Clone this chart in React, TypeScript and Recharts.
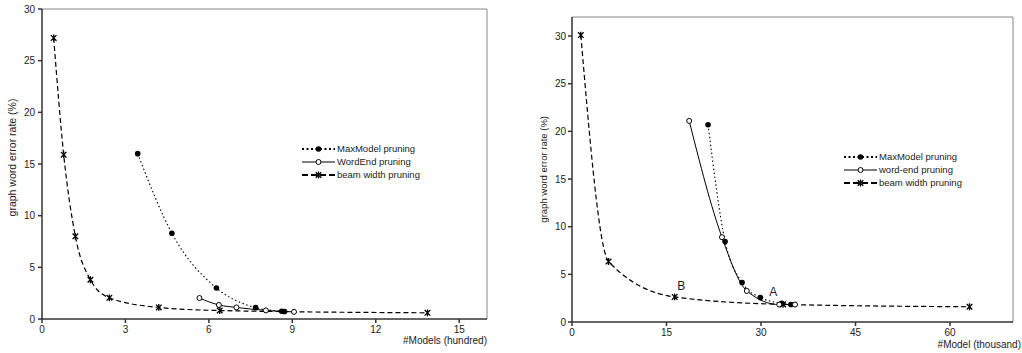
import React from 'react';
import {
  LineChart,
  Line,
  XAxis,
  YAxis,
  Legend,
  Label,
  ReferenceLine,
  ReferenceDot
} from 'recharts';

const FONT = '"Liberation Sans", Arial, sans-serif';
const INK = '#222';

// left panel: x = #Models (hundred)
const leftXTicks = [0, 3, 6, 9, 12, 15];
const leftYTicks = [0, 5, 10, 15, 20, 25, 30];
const leftMaxModelX = [3.44, 4.67, 6.27, 7.68, 8.62, 8.72];
const leftMaxModelY = [16.0, 8.3, 3.0, 1.1, 0.75, 0.72];
const leftWordEndX = [5.66, 6.36, 6.99, 8.05, 9.06];
const leftWordEndY = [2.03, 1.36, 1.12, 0.83, 0.69];
const leftBeamX = [0.42, 0.78, 1.2, 1.74, 2.42, 4.2, 6.39, 13.86];
const leftBeamY = [27.2, 15.9, 8.0, 3.8, 2.05, 1.12, 0.82, 0.6];
const leftNames = ['MaxModel pruning', 'WordEnd pruning', 'beam width pruning'];

// right panel: x = #Model (thousand)
const rightXTicks = [0, 15, 30, 45, 60];
const rightYTicks = [0, 5, 10, 15, 20, 25, 30];
const rightMaxModelX = [21.6, 24.3, 27.0, 29.9, 33.3, 34.75];
const rightMaxModelY = [20.7, 8.45, 4.14, 2.56, 1.97, 1.83];
const rightWordEndX = [18.6, 23.8, 27.75, 32.9, 35.4];
const rightWordEndY = [21.1, 8.9, 3.26, 1.83, 1.83];
const rightBeamX = [1.4, 5.8, 16.3, 33.5, 63.1];
const rightBeamY = [30.1, 6.35, 2.63, 1.85, 1.6];
const rightNames = ['MaxModel pruning', 'word-end pruning', 'beam width pruning'];
const rightNotes = [
  { text: 'B', x: 17.35, y: 3.78 },
  { text: 'A', x: 31.95, y: 3.18 }
];

const toPoints = (xs: number[], ys: number[]) => xs.map((x, i) => ({ x, y: ys[i] }));

const filledDot = (p: any) => (
  <circle key={`f${p.index}`} cx={p.cx} cy={p.cy} r={2.8} fill="#000" />
);
const openDot = (p: any) => (
  <circle key={`o${p.index}`} cx={p.cx} cy={p.cy} r={2.5} fill="#fff" stroke="#000" strokeWidth={1} />
);
const starDot = (p: any) => {
  const s = 2.8;
  const { cx, cy } = p;
  return (
    <path
      key={`s${p.index}`}
      d={`M${cx - s},${cy - s}L${cx + s},${cy + s}M${cx - s},${cy + s}L${cx + s},${cy - s}M${cx},${cy - s - 0.6}L${cx},${cy + s + 0.6}`}
      stroke="#000"
      strokeWidth={1.3}
      fill="none"
    />
  );
};

const lineStyles = [
  { dash: '1.5 2.5', width: 1.1, dot: filledDot },
  { dash: undefined, width: 1, dot: openDot },
  { dash: '5 3', width: 1.2, dot: starDot }
];

function LegendBox({ names }: { names: string[] }) {
  return (
    <svg width={190} height={44} style={{ display: 'block' }}>
      {names.map((name, i) => {
        const y = 7 + i * 13;
        const st = lineStyles[i];
        return (
          <g key={name}>
            <line x1={2} x2={35} y1={y} y2={y} stroke="#000" strokeWidth={i === 1 ? 1 : 1.8} strokeDasharray={i === 0 ? '2 2.5' : i === 2 ? '6 3' : undefined} />
            {st.dot({ cx: 18.5, cy: y, index: i })}
            <text x={37} y={y + 3.4} fontSize={9.5} fontFamily={FONT} fill={INK}>{name}</text>
          </g>
        );
      })}
    </svg>
  );
}

const axisProps = {
  stroke: '#333',
  strokeWidth: 1.5,
  tickSize: 4,
  tick: { fontSize: 10, fontFamily: FONT, fill: INK }
};

function LeftPanel() {
  const series = [
    toPoints(leftMaxModelX, leftMaxModelY),
    toPoints(leftWordEndX, leftWordEndY),
    toPoints(leftBeamX, leftBeamY)
  ];
  return (
    <LineChart width={500} height={353} margin={{ top: 9, right: 13, bottom: 14, left: 12 }}>
      <ReferenceLine y={30} stroke="#888" strokeWidth={1} />
      <ReferenceLine x={16} stroke="#888" strokeWidth={1} />
      <XAxis dataKey="x" type="number" domain={[0, 16]} ticks={leftXTicks} height={20} tickMargin={3} {...axisProps}>
        <Label content={() => (
          <text x={487} y={343.5} textAnchor="end" fontSize={10} fontFamily={FONT} fill={INK}>#Models (hundred)</text>
        )} />
      </XAxis>
      <YAxis dataKey="y" type="number" domain={[0, 30]} ticks={leftYTicks} width={30} tickMargin={3} {...axisProps}>
        <Label content={() => (
          <text x={15.5} y={157.5} transform="rotate(-90 15.5 157.5)" textAnchor="middle" fontSize={10.5} fontFamily={FONT} fill={INK}>graph word error rate (%)</text>
        )} />
      </YAxis>
      {series.map((data, i) => (
        <Line
          key={leftNames[i]}
          data={data}
          dataKey="y"
          name={leftNames[i]}
          type="monotone"
          stroke="#000"
          strokeWidth={lineStyles[i].width}
          strokeDasharray={lineStyles[i].dash}
          dot={lineStyles[i].dot}
          activeDot={false}
          isAnimationActive={false}
        />
      ))}
      <Legend
        layout="vertical"
        align="center"
        verticalAlign="middle"
        content={() => <LegendBox names={leftNames} />}
        wrapperStyle={{ left: 300, top: 142, width: 190, height: 44 }}
      />
    </LineChart>
  );
}

function RightPanel() {
  const series = [
    toPoints(rightMaxModelX, rightMaxModelY),
    toPoints(rightWordEndX, rightWordEndY),
    toPoints(rightBeamX, rightBeamY)
  ];
  return (
    <LineChart width={512} height={353} margin={{ top: 17, right: 9, bottom: 11, left: 32 }}>
      <ReferenceLine y={32} stroke="#888" strokeWidth={1} />
      <ReferenceLine x={70} stroke="#888" strokeWidth={1} />
      <XAxis dataKey="x" type="number" domain={[0, 70]} ticks={rightXTicks} height={20} tickMargin={3} {...axisProps}>
        <Label content={() => (
          <text x={511} y={348} textAnchor="end" fontSize={10} fontFamily={FONT} fill={INK}>#Model (thousand)</text>
        )} />
      </XAxis>
      <YAxis dataKey="y" type="number" domain={[0, 32]} ticks={rightYTicks} width={30} tickMargin={2} {...axisProps}>
        <Label content={() => (
          <text x={37.5} y={169.3} transform="rotate(-90 37.5 169.3)" textAnchor="middle" fontSize={9.5} fontFamily={FONT} fill={INK}>graph word error rate (%)</text>
        )} />
      </YAxis>
      {series.map((data, i) => (
        <Line
          key={rightNames[i]}
          data={data}
          dataKey="y"
          name={rightNames[i]}
          type="monotone"
          stroke="#000"
          strokeWidth={lineStyles[i].width}
          strokeDasharray={lineStyles[i].dash}
          dot={lineStyles[i].dot}
          activeDot={false}
          isAnimationActive={false}
        />
      ))}
      {rightNotes.map(n => (
        <ReferenceDot
          key={n.text}
          x={n.x}
          y={n.y}
          r={1}
          shape={(p: any) => (
            <text x={p.cx} y={p.cy + 4.3} textAnchor="middle" fontSize={12} fontFamily={FONT} fill={INK}>{n.text}</text>
          )}
        />
      ))}
      <Legend
        layout="vertical"
        align="center"
        verticalAlign="middle"
        content={() => <LegendBox names={rightNames} />}
        wrapperStyle={{ left: 332, top: 150, width: 190, height: 44 }}
      />
    </LineChart>
  );
}

export default function App() {
  return (
    <div style={{ position: 'absolute', left: 0, top: 0, width: 1022, height: 353, background: '#fff' }}>
      <div style={{ position: 'absolute', left: 0, top: 0 }}>
        <LeftPanel />
      </div>
      <div style={{ position: 'absolute', left: 510, top: 0 }}>
        <RightPanel />
      </div>
    </div>
  );
}
